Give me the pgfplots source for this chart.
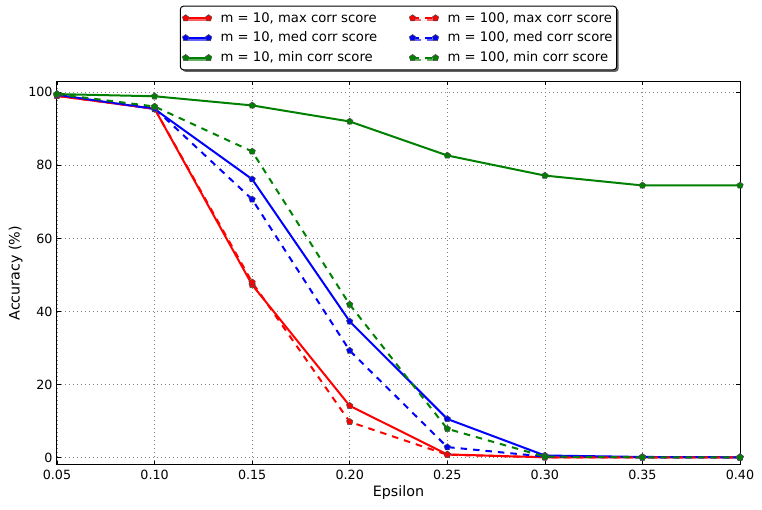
\documentclass[border=0pt]{standalone}
\usepackage{pgfplots}
\pgfplotsset{compat=1.18}
\usepackage{fontspec}
\setmainfont{DejaVu Sans}
\usetikzlibrary{plotmarks,shadows}
\definecolor{mgreen}{rgb}{0,0.5,0}
\pgfplotstableread{
x     a     b     c     d     e     f
0.05  99.0  99.3  99.5  99.0  99.3  99.5
0.10  95.5  95.4  98.9  95.5  95.6  96.1
0.15  47.3  76.2  96.4  48.0  70.7  83.8
0.20  14.2  37.3  92.0  9.8   29.3  41.9
0.25  0.9   10.6  82.7  0.8   2.9   7.9
0.30  0.1   0.6   77.2  0.1   0.3   0.3
0.35  0.1   0.2   74.5  0.1   0.1   0.1
0.40  0.1   0.1   74.5  0.1   0.1   0.1
}\data
\begin{document}
\fontsize{12.7pt}{15pt}\selectfont
\begin{tikzpicture}[x=1pt,y=1pt]
\useasboundingbox (-57,-45) rectangle (705,465);
\begin{axis}[
  at={(0,0)}, anchor=south west,
  scale only axis, width=683pt, height=383.7pt,
  xmin=0.05, xmax=0.40, ymin=-2, ymax=103,
  xtick={0.05,0.10,0.15,0.20,0.25,0.30,0.35,0.40},
  ytick={0,20,40,60,80,100},
  x tick label style={/pgf/number format/fixed, /pgf/number format/fixed zerofill, /pgf/number format/precision=2, yshift=-1pt},
  /pgf/number format/assume math mode=true,
  ticklabel style={font=\fontsize{12.7pt}{15pt}\selectfont},
  xlabel={Epsilon}, ylabel={Accuracy (\%)},
  xlabel style={font=\fontsize{14.3pt}{17pt}\selectfont, yshift=3pt},
  ylabel style={font=\fontsize{14.3pt}{17pt}\selectfont, yshift=-3pt},
  tick align=inside, major tick length=4pt,
  tick style={black, line width=0.6pt},
  axis line style={line width=1pt},
  grid=major,
  major grid style={gray, line width=0.6pt, dash pattern=on 1pt off 3pt},
  legend columns=2,
  legend style={at={(rel axis cs:0.5,1)}, anchor=south, yshift=11pt,
    draw=black, line width=1pt, rounded corners=3pt, fill=white,
    drop shadow={shadow xshift=2pt, shadow yshift=-2pt, fill=black, opacity=0.6},
    font=\fontsize{13.2pt}{15pt}\selectfont,
    /tikz/every even column/.append style={column sep=30pt},
    row sep=4pt, inner xsep=2pt, inner ysep=4pt},
  legend cell align=left,
  legend image code/.code={
    \draw[#1,mark=none] (0pt,0pt) -- (23pt,0pt);
    \draw[#1,solid] plot[only marks] coordinates {(0pt,0pt) (23pt,0pt)};
    \path (32pt,0pt);
  },
  ln/.style={line width=2pt},
  mk/.style={mark=pentagon*, mark size=3.4pt, mark options={solid, fill=#1, draw=black!70, line width=0.5pt}},
  dsh/.style={dash pattern=on 6.5pt off 6pt},
]
\addlegendimage{red, ln, mk=red}
\addlegendentry{m = 10, max corr score}
\addlegendimage{red, ln, dsh, mk=red}
\addlegendentry{m = 100, max corr score}
\addlegendimage{blue, ln, mk=blue}
\addlegendentry{m = 10, med corr score}
\addlegendimage{blue, ln, dsh, mk=blue}
\addlegendentry{m = 100, med corr score}
\addlegendimage{mgreen, ln, mk=mgreen}
\addlegendentry{m = 10, min corr score}
\addlegendimage{mgreen, ln, dsh, mk=mgreen}
\addlegendentry{m = 100, min corr score}
\addplot[red, ln, mk=red, forget plot] table[x=x,y=a] {\data};
\addplot[blue, ln, mk=blue, forget plot] table[x=x,y=b] {\data};
\addplot[mgreen, ln, mk=mgreen, forget plot] table[x=x,y=c] {\data};
\addplot[red, ln, dsh, mk=red, forget plot] table[x=x,y=d] {\data};
\addplot[blue, ln, dsh, mk=blue, forget plot] table[x=x,y=e] {\data};
\addplot[mgreen, ln, dsh, mk=mgreen, forget plot] table[x=x,y=f] {\data};
\end{axis}
\end{tikzpicture}
\end{document}
